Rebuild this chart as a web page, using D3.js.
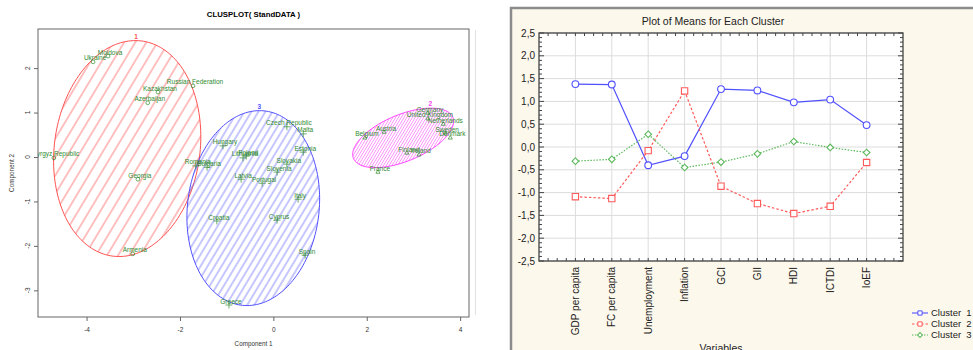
<!DOCTYPE html>
<html>
<head>
<meta charset="utf-8">
<script src="https://cdn.jsdelivr.net/npm/d3@7"></script>
<style>
body { margin: 0; background: #fff; }
svg { display: block; font-family: "Liberation Sans", Arial, sans-serif; }
</style>
</head>
<body>
<svg id="chart" width="973" height="350"></svg>
<script>
// ---- clusplot data (component scores) ----
let countryNames = ["Moldova", "Ukraine", "Russian Federation", "Kazakhstan", "Azerbaijan", "Kyrgyz Republic", "Georgia", "Armenia",
    "Germany", "United Kingdom", "Netherlands", "Sweden", "Denmark", "Austria", "Belgium", "Finland", "Ireland", "France",
    "Czech Republic", "Malta", "Hungary", "Estonia", "Lithuania", "Poland", "Romania", "Bulgaria", "Slovakia", "Slovenia",
    "Latvia", "Portugal", "Italy", "Cyprus", "Croatia", "Spain", "Greece"];
let comp1 = [-3.54, -3.86, -1.72, -2.47, -2.69, -4.70, -2.90, -3.01,
    3.31, 3.31, 3.64, 3.68, 3.79, 2.37, 1.96, 2.86, 3.12, 2.24,
    0.29, 0.64, -1.08, 0.64, -0.65, -0.58, -1.66, -1.42, 0.29, 0.08,
    -0.69, -0.24, 0.53, 0.08, -1.21, 0.68, -0.95];
let comp2 = [2.27, 2.14, 1.60, 1.46, 1.22, -0.02, -0.50, -2.18,
    0.99, 0.86, 0.74, 0.54, 0.43, 0.56, 0.43, 0.09, 0.05, -0.34,
    0.68, 0.52, 0.25, 0.11, -0.02, 0.02, -0.20, -0.23, -0.16, -0.34,
    -0.50, -0.59, -0.95, -1.42, -1.44, -2.21, -3.33];
let countryCluster = [1, 1, 1, 1, 1, 1, 1, 1,
    2, 2, 2, 2, 2, 2, 2, 2, 2, 2,
    3, 3, 3, 3, 3, 3, 3, 3, 3, 3, 3, 3, 3, 3, 3, 3, 3];

// cluster ellipses in component units
let clusterIds = [1, 2, 3];
let ellipseX = [-3.13, 2.78, -0.43];
let ellipseY = [0.19, 0.43, -1.15];
let ellipseA = [1.56, 1.16, 1.41];
let ellipseB = [2.44, 0.52, 2.2];
let ellipseAngle = [-7, 24, -6];

let clusXTicks = [-4, -2, 0, 2, 4];
let clusYTicks = [-3, -2, -1, 0, 1, 2];

// ---- plot of means data ----
let variables = ["GDP per capita", "FC per capita", "Unemployment", "Inflation", "GCI", "GII", "HDI", "ICTDI", "IoEF"];
let cluster1Means = [1.38, 1.37, -0.40, -0.20, 1.27, 1.24, 0.98, 1.04, 0.48];
let cluster2Means = [-1.09, -1.13, -0.08, 1.23, -0.86, -1.24, -1.46, -1.30, -0.34];
let cluster3Means = [-0.31, -0.27, 0.28, -0.45, -0.33, -0.15, 0.12, -0.01, -0.12];
let meansTicks = [2.5, 2.0, 1.5, 1.0, 0.5, 0.0, -0.5, -1.0, -1.5, -2.0, -2.5];
let legendNames = ["Cluster  1", "Cluster  2", "Cluster  3"];

let svg = d3.select("#chart");
let defs = svg.append("defs");

//================ left: CLUSPLOT ================
let box = {left: 38, right: 469, top: 29, bottom: 317};
let cx = d3.scaleLinear().domain([-5.04, 4.19]).range([box.left, box.right]);
let cy = d3.scaleLinear().domain([-3.6, 2.88]).range([box.bottom, box.top]);

let clusColor = {1: "#ff5050", 2: "#ff40ff", 3: "#5050ff"};
let hatchColor = {1: "#ff7070", 2: "#ff6cff", 3: "#7070ff"};
let hatchGap = {1: 9.5, 2: 2.4, 3: 6};
let hatchWidth = {1: 0.9, 2: 0.7, 3: 0.8};

clusterIds.forEach(function(c) {
    let p = defs.append("pattern")
        .attr("id", "hatch" + c)
        .attr("patternUnits", "userSpaceOnUse")
        .attr("width", hatchGap[c])
        .attr("height", 20)
        .attr("patternTransform", "rotate(31)");
    p.append("line")
        .attr("x1", hatchGap[c] / 2).attr("x2", hatchGap[c] / 2)
        .attr("y1", 0).attr("y2", 20)
        .attr("stroke", hatchColor[c])
        .attr("stroke-width", hatchWidth[c]);
});

defs.append("clipPath").attr("id", "boxClip")
    .append("rect")
    .attr("x", box.left).attr("y", box.top)
    .attr("width", box.right - box.left).attr("height", box.bottom - box.top);

//title
svg.append("text")
    .attr("x", (box.left + box.right) / 2)
    .attr("y", 17)
    .attr("text-anchor", "middle")
    .style("font-size", "7.8px")
    .style("font-weight", "bold")
    .text("CLUSPLOT( StandDATA )");

let plot = svg.append("g").attr("clip-path", "url(#boxClip)");

//ellipses
let ellipseLine = d3.line()
    .x(function(d) { return cx(d[0]); })
    .y(function(d) { return cy(d[1]); })
    .curve(d3.curveLinearClosed);

clusterIds.forEach(function(c, i) {
    let th = ellipseAngle[i] * Math.PI / 180;
    let pts = d3.range(0, 360, 2).map(function(t) {
        let r = t * Math.PI / 180;
        let ex = ellipseA[i] * Math.cos(r), ey = ellipseB[i] * Math.sin(r);
        return [ellipseX[i] + ex * Math.cos(th) - ey * Math.sin(th),
                ellipseY[i] + ex * Math.sin(th) + ey * Math.cos(th)];
    });
    plot.append("path")
        .datum(pts)
        .attr("d", ellipseLine)
        .attr("fill", "url(#hatch" + c + ")")
        .attr("stroke", clusColor[c])
        .attr("stroke-width", 1);
    // cluster number above top of ellipse
    let top = pts.reduce(function(a, b) { return b[1] > a[1] ? b : a; });
    plot.append("text")
        .attr("x", cx(top[0]))
        .attr("y", cy(top[1]) - 2)
        .attr("text-anchor", "middle")
        .attr("fill", clusColor[c])
        .style("font-size", "6.5px")
        .style("font-weight", "bold")
        .text(c);
});

//points
let pointColor = "#2f8a2f";
let symbolFor = {
    1: d3.symbol().type(d3.symbolCircle).size(11),
    2: d3.symbol().type(d3.symbolTriangle2 || d3.symbolTriangle).size(12),
    3: d3.symbol().type(d3.symbolPlus || d3.symbolCross).size(18)
};
countryNames.forEach(function(name, i) {
    plot.append("path")
        .attr("d", symbolFor[countryCluster[i]]())
        .attr("transform", "translate(" + cx(comp1[i]) + "," + cy(comp2[i]) + ")")
        .attr("fill", "none")
        .attr("stroke", pointColor)
        .attr("stroke-width", 0.7);
});
countryNames.forEach(function(name, i) {
    plot.append("text")
        .attr("x", cx(comp1[i]) + 2)
        .attr("y", cy(comp2[i]) - 1.5)
        .attr("text-anchor", "middle")
        .attr("fill", pointColor)
        .style("font-size", "6.5px")
        .text(name);
});

//box and axes
svg.append("rect")
    .attr("x", box.left).attr("y", box.top)
    .attr("width", box.right - box.left).attr("height", box.bottom - box.top)
    .attr("fill", "none").attr("stroke", "#666").attr("stroke-width", 1);

let xAx = svg.append("g")
    .attr("transform", "translate(0," + box.bottom + ")")
    .call(d3.axisBottom(cx).tickValues(clusXTicks).tickSize(4).tickPadding(6)
        .tickFormat(function(d) { return String(d); }));
xAx.select(".domain").remove();
xAx.selectAll("line").attr("stroke", "#666");
xAx.selectAll("text").style("font-size", "6.5px").attr("fill", "#333").attr("font-family", null);

let yAx = svg.append("g")
    .attr("transform", "translate(" + box.left + ",0)")
    .call(d3.axisLeft(cy).tickValues(clusYTicks).tickSize(4).tickFormat(""));
yAx.select(".domain").remove();
yAx.selectAll("line").attr("stroke", "#666");
svg.selectAll(".ylab").data(clusYTicks).enter().append("text")
    .attr("class", "ylab")
    .attr("transform", function(d) { return "translate(29.5," + cy(d) + ") rotate(-90)"; })
    .attr("text-anchor", "middle")
    .attr("fill", "#333")
    .style("font-size", "6.5px")
    .text(function(d) { return String(d); });

svg.append("text")
    .attr("x", (box.left + box.right) / 2).attr("y", 346)
    .attr("text-anchor", "middle").attr("fill", "#333")
    .style("font-size", "6.3px")
    .text("Component 1");
svg.append("text")
    .attr("transform", "translate(14," + (box.top + box.bottom) / 2 + ") rotate(-90)")
    .attr("text-anchor", "middle").attr("fill", "#333")
    .style("font-size", "6.3px")
    .text("Component 2");

svg.append("line")
    .attr("x1", 475.5).attr("x2", 475.5).attr("y1", 30).attr("y2", 315)
    .attr("stroke", "#e2e2e2");

//================ right: Plot of Means ================
svg.append("rect")
    .attr("x", 511).attr("y", 8).attr("width", 462).attr("height", 342)
    .attr("fill", "#fdf8ec");
svg.append("path")
    .attr("d", "M511,350 V8 H973")
    .attr("fill", "none").attr("stroke", "#8c8c8c").attr("stroke-width", 2.5);

let mBox = {left: 539, right: 903, top: 33, bottom: 261};
let mx = d3.scalePoint().domain(variables).range([mBox.left, mBox.right]).padding(1);
let my = d3.scaleLinear().domain([-2.5, 2.5]).range([mBox.bottom, mBox.top]);
let commaFmt = d3.formatLocale({decimal: ",", thousands: ".", grouping: [3], currency: ["", ""], minus: "-"}).format(".1f");

svg.append("text")
    .attr("x", 713).attr("y", 25)
    .attr("text-anchor", "middle").attr("fill", "#222")
    .style("font-size", "10.5px")
    .text("Plot of Means for Each Cluster");

let mg = svg.append("g");
mg.append("rect")
    .attr("x", mBox.left).attr("y", mBox.top)
    .attr("width", mBox.right - mBox.left).attr("height", mBox.bottom - mBox.top)
    .attr("fill", "#fff");

//grid
mg.selectAll(".hgrid").data(meansTicks).enter().append("line")
    .attr("x1", mBox.left).attr("x2", mBox.right)
    .attr("y1", function(d) { return my(d); }).attr("y2", function(d) { return my(d); })
    .attr("stroke", "#dcdcdc");
mg.selectAll(".vgrid").data(variables).enter().append("line")
    .attr("x1", function(d) { return mx(d); }).attr("x2", function(d) { return mx(d); })
    .attr("y1", mBox.top).attr("y2", mBox.bottom)
    .attr("stroke", "#dcdcdc");

//minor ticks, inside all four edges
let yMinor = d3.range(-25, 26).map(function(k) { return k / 10; });
let step = mx.step();
let xMinor = d3.range(-4, 4 * variables.length + 4).map(function(k) { return mx(variables[0]) + k * step / 4; })
    .filter(function(x) { return x > mBox.left + 1 && x < mBox.right - 1; });
yMinor.forEach(function(v) {
    let len = Math.abs(Math.round(v * 10)) % 5 === 0 ? 5 : 3;
    mg.append("line").attr("x1", mBox.left).attr("x2", mBox.left + len)
        .attr("y1", my(v)).attr("y2", my(v)).attr("stroke", "#444");
    mg.append("line").attr("x1", mBox.right).attr("x2", mBox.right - len)
        .attr("y1", my(v)).attr("y2", my(v)).attr("stroke", "#444");
});
xMinor.forEach(function(x, k) {
    mg.append("line").attr("x1", x).attr("x2", x)
        .attr("y1", mBox.bottom).attr("y2", mBox.bottom - 3).attr("stroke", "#444");
    mg.append("line").attr("x1", x).attr("x2", x)
        .attr("y1", mBox.top).attr("y2", mBox.top + 3).attr("stroke", "#444");
});

mg.append("rect")
    .attr("x", mBox.left).attr("y", mBox.top)
    .attr("width", mBox.right - mBox.left).attr("height", mBox.bottom - mBox.top)
    .attr("fill", "none").attr("stroke", "#444").attr("stroke-width", 1.3);

//y labels
mg.selectAll(".mylab").data(meansTicks).enter().append("text")
    .attr("x", mBox.left - 4)
    .attr("y", function(d) { return my(d); })
    .attr("dy", "0.35em")
    .attr("text-anchor", "end").attr("fill", "#222")
    .style("font-size", "10px")
    .text(function(d) { return commaFmt(d); });

//x labels
mg.selectAll(".mxlab").data(variables).enter().append("text")
    .attr("transform", function(d) { return "translate(" + mx(d) + "," + (mBox.bottom + 6) + ") rotate(-90)"; })
    .attr("dy", "0.35em")
    .attr("text-anchor", "end").attr("fill", "#222")
    .style("font-size", "10px")
    .text(function(d) { return d; });

svg.append("text")
    .attr("x", 721).attr("y", 352)
    .attr("text-anchor", "middle").attr("fill", "#222")
    .style("font-size", "10.5px")
    .text("Variables");

//series
let seriesData = [cluster1Means, cluster2Means, cluster3Means];
let seriesColor = ["#5050ff", "#ff5a5a", "#5cb85c"];
let seriesDash = [null, "2.5,2", "1.5,1.5"];
let seriesSymbol = [
    d3.symbol().type(d3.symbolCircle).size(36),
    d3.symbol().type(d3.symbolSquare).size(40),
    d3.symbol().type(d3.symbolSquare).size(22)
];
let seriesRot = [0, 0, 45];

let meanLine = d3.line()
    .x(function(d, i) { return mx(variables[i]); })
    .y(function(d) { return my(d); });

seriesData.forEach(function(s, k) {
    mg.append("path")
        .datum(s)
        .attr("d", meanLine)
        .attr("fill", "none")
        .attr("stroke", seriesColor[k])
        .attr("stroke-width", 1.2)
        .attr("stroke-dasharray", seriesDash[k]);
});
seriesData.forEach(function(s, k) {
    mg.selectAll(".m" + k).data(s).enter().append("path")
        .attr("d", seriesSymbol[k]())
        .attr("transform", function(d, i) { return "translate(" + mx(variables[i]) + "," + my(d) + ") rotate(" + seriesRot[k] + ")"; })
        .attr("fill", "#fff")
        .attr("stroke", seriesColor[k])
        .attr("stroke-width", 1.1);
});

//legend
let lg = svg.append("g");
legendNames.forEach(function(name, k) {
    let ly = 313 + k * 11;
    lg.append("line").attr("x1", 912).attr("x2", 928).attr("y1", ly).attr("y2", ly)
        .attr("stroke", seriesColor[k]).attr("stroke-width", 1.1)
        .attr("stroke-dasharray", seriesDash[k]);
    lg.append("path")
        .attr("d", d3.symbol().type(d3.symbolSquare).size(k === 2 ? 12 : 18)())
        .attr("transform", "translate(920," + ly + ") rotate(" + seriesRot[k] + ")")
        .attr("fill", "#fff").attr("stroke", seriesColor[k]);
    lg.append("text")
        .attr("x", 931).attr("y", ly).attr("dy", "0.35em")
        .attr("fill", "#222")
        .style("font-size", "9.5px")
        .style("white-space", "pre")
        .attr("xml:space", "preserve")
        .text(name);
});
</script>
</body>
</html>
